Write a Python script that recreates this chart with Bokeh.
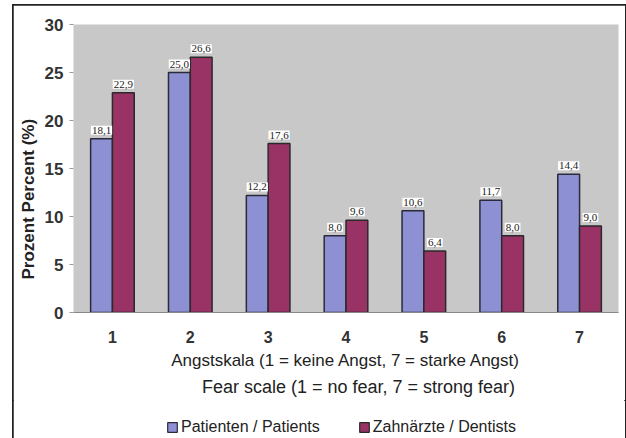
from bokeh.plotting import figure
from bokeh.models import ColumnDataSource, LinearAxis, Legend, LegendItem, Range1d, FixedTicker
from bokeh.layouts import column
from bokeh.embed import file_html
from bokeh.resources import INLINE

categories = [1, 2, 3, 4, 5, 6, 7]
patients = [18.1, 25.0, 12.2, 8.0, 10.6, 11.7, 14.4]
dentists = [22.9, 26.6, 17.6, 9.6, 6.4, 8.0, 9.0]
series_names = ["Patienten / Patients", "Zahnärzte / Dentists"]
y_ticks = [0, 5, 10, 15, 20, 25, 30]

FONT = "Liberation Sans"
BLUE = "#8D90D2"
RED = "#993366"
BW = 0.28
NB = "\u00a0"

def fmt(v):
    return f"{v:.1f}".replace(".", ",")

src_p = ColumnDataSource(dict(x=[c - BW / 2 for c in categories], top=patients,
                              lab=[fmt(v) for v in patients]))
src_d = ColumnDataSource(dict(x=[c + BW / 2 for c in categories], top=dentists,
                              lab=[fmt(v) for v in dentists]))

p = figure(width=612, height=395, output_backend="svg", toolbar_location=None,
           x_range=Range1d(0.5, 7.5), y_range=Range1d(0, 30),
           min_border_left=60, min_border_right=7, min_border_top=19, min_border_bottom=88,
           x_axis_location=None)
p.background_fill_color = "#C8C8C8"
p.border_fill_color = "white"
p.outline_line_color = None
p.xgrid.visible = False
p.ygrid.visible = False

p.vbar(x="x", top="top", width=BW, source=src_p, fill_color=BLUE,
       line_color="#2a2a3a", line_width=1.5)
p.vbar(x="x", top="top", width=BW, source=src_d, fill_color=RED,
       line_color="#2a2a2a", line_width=1.5)

for src in (src_p, src_d):
    p.text(x="x", y="top", text="lab", source=src, text_align="center",
           text_baseline="bottom", y_offset=-4, text_font_size="11px",
           text_color="#222", text_font=FONT,
           background_fill_color="white", padding=1)

# y axis
ya = p.yaxis[0]
ya.ticker = FixedTicker(ticks=y_ticks)
ya.axis_label = "Prozent  Percent (%)" + NB * 12
ya.axis_label_text_font = FONT
ya.axis_label_text_font_style = "bold"
ya.axis_label_text_font_size = "17px"
ya.axis_label_text_color = "#222"
ya.axis_label_standoff = 4
ya.major_label_text_font = FONT
ya.major_label_text_font_style = "bold"
ya.major_label_text_font_size = "17px"
ya.major_label_text_color = "#333"
ya.major_label_standoff = 6
ya.axis_line_color = None
ya.major_tick_in = 0
ya.major_tick_out = 4
ya.major_tick_line_color = "#999"
ya.minor_tick_line_color = None

# x axis (main)
xa = LinearAxis(ticker=FixedTicker(ticks=categories))
xa.axis_label = "Angstskala (1 = keine Angst, 7 = starke Angst)"
xa.axis_line_color = "#888"
xa.major_tick_line_color = None
xa.minor_tick_line_color = None
xa.major_label_standoff = 12
xa.major_label_text_font = FONT
xa.major_label_text_font_style = "bold"
xa.major_label_text_font_size = "16px"
xa.major_label_text_color = "#333"
xa.axis_label_text_font = FONT
xa.axis_label_text_font_style = "normal"
xa.axis_label_text_font_size = "17px"
xa.axis_label_text_color = "#222"
xa.axis_label_standoff = 5
p.add_layout(xa, "below")

xa2 = LinearAxis(ticker=FixedTicker(ticks=[]))
xa2.axis_label = NB * 5 + "Fear scale (1 = no fear, 7 = strong fear)"
xa2.axis_line_color = None
xa2.major_tick_line_color = None
xa2.minor_tick_line_color = None
xa2.major_label_text_font_size = "0px"
xa2.axis_label_text_font = FONT
xa2.axis_label_text_font_style = "normal"
xa2.axis_label_text_font_size = "18px"
xa2.axis_label_text_color = "#222"
xa2.axis_label_standoff = 4
p.add_layout(xa2, "below")

# legend strip (proxy renderers lie outside its visible range)
lg = figure(width=612, height=39, output_backend="svg", toolbar_location=None,
            x_range=Range1d(100, 101), y_range=Range1d(100, 101),
            min_border_left=0, min_border_right=0, min_border_top=0, min_border_bottom=0,
            x_axis_location=None, y_axis_location=None)
lg.xgrid.visible = False
lg.ygrid.visible = False
lg.outline_line_color = None
lg.background_fill_color = "white"
lg.border_fill_color = "white"
l1 = lg.vbar(x="x", top="top", width=BW, source=src_p,
             fill_color=BLUE, line_color="#2a2a3a", line_width=1.2)
l2 = lg.vbar(x="x", top="top", width=BW, source=src_d,
             fill_color=RED, line_color="#2a2a2a", line_width=1.2)
legend = Legend(items=[LegendItem(label=series_names[0], renderers=[l1]),
                       LegendItem(label=series_names[1], renderers=[l2])],
                orientation="horizontal", location=(93, 3),
                label_text_font=FONT, label_text_font_size="16px", label_text_color="#222",
                glyph_width=12, glyph_height=12, label_standoff=3, spacing=38,
                border_line_color=None, background_fill_alpha=0, margin=0, padding=4)
lg.add_layout(legend, "center")

layout = column(p, lg, spacing=0, width=612)
layout.styles = {"margin-left": "13px", "margin-top": "5px",
                 "outline": "2px solid #222", "outline-offset": "-1px"}

open("out.html", "w").write(file_html(layout, INLINE))
